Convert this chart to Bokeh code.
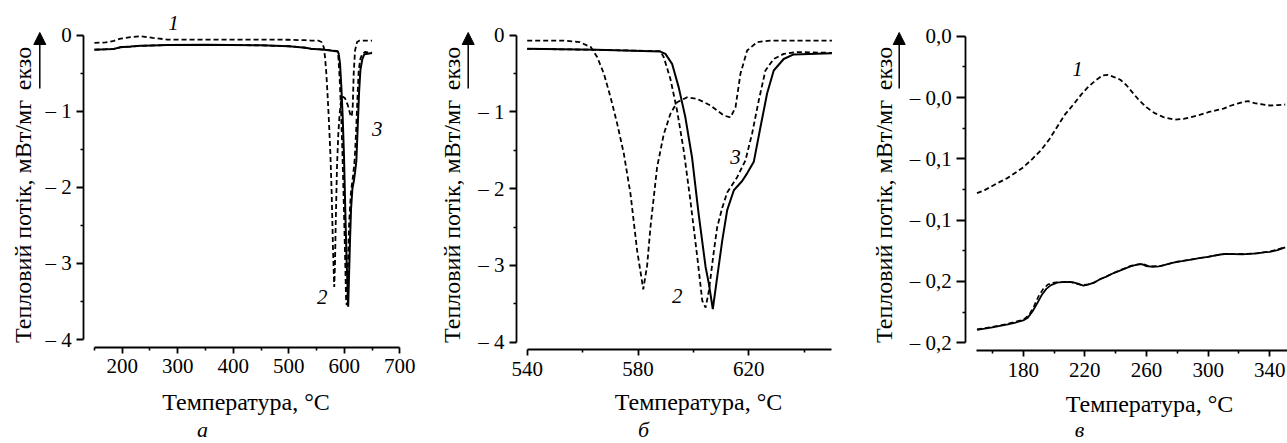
import math
from bokeh.plotting import figure
from bokeh.models import Range1d, FixedTicker, Label, Arrow, NormalHead
from bokeh.layouts import row
from bokeh.embed import file_html
from bokeh.resources import INLINE

# ---------------- data ----------------
# Panels а and б: wide range (150-530 °C, coarse) + melting region (540-650 °C, detailed)
t_low = [150, 170, 185, 197, 215, 233, 255, 281, 350, 450, 500, 530]
c1_low = [-0.10, -0.095, -0.075, -0.045, -0.025, -0.013, -0.035, -0.057, -0.057, -0.057, -0.060, -0.066]
c2_low = [-0.19, -0.185, -0.18, -0.158, -0.15, -0.14, -0.135, -0.13, -0.127, -0.133, -0.145, -0.165]
c3_low = [-0.19, -0.185, -0.18, -0.158, -0.15, -0.14, -0.135, -0.13, -0.127, -0.133, -0.145, -0.165]

t1_hi = [540, 553, 559, 563, 565.3, 567.7, 570.1, 572.5, 574.9, 577.3, 579.7, 581.9, 583.3,
         584.5, 586.9, 589.3, 591.7, 594.1, 597.7, 601.4, 606.2, 611, 613.4, 615.2, 617,
         619.4, 623, 627.8, 650]
c1_hi = [-0.07, -0.07, -0.09, -0.156, -0.287, -0.504, -0.81, -1.155, -1.546, -2.07, -2.81, -3.31, -3.0,
         -2.5, -1.72, -1.29, -1.025, -0.873, -0.81, -0.83, -0.916, -1.047, -1.07, -0.94, -0.5,
         -0.2, -0.09, -0.07, -0.07]

t2_hi = [540, 565, 588.1, 589.3, 591.7, 594.1, 596.5, 598.9, 601.4, 603.2, 604.4, 605.6, 607.4,
         608.6, 610.4, 612.2, 615.8, 618.8, 621.2, 623.6, 626, 629, 632.6, 637.4, 650]
c2_hi = [-0.178, -0.19, -0.208, -0.287, -0.57, -0.98, -1.5, -2.15, -2.89, -3.46, -3.55, -3.33, -2.81,
         -2.50, -2.25, -2.05, -1.85, -1.63, -1.28, -0.85, -0.46, -0.31, -0.243, -0.22, -0.23]

t3_hi = [540, 565, 588.1, 589.9, 592.3, 594.7, 597.1, 599.5, 601.9, 604.4, 605.6, 607.0, 608.6,
         610.4, 612.2, 614.6, 617.6, 619.4, 621.8, 624.2, 626.6, 629, 632.6, 636.2, 650]
c3_hi = [-0.178, -0.19, -0.213, -0.243, -0.373, -0.68, -1.07, -1.59, -2.33, -3.02, -3.24, -3.57, -3.15,
         -2.68, -2.28, -2.02, -1.90, -1.80, -1.65, -1.2, -0.76, -0.46, -0.31, -0.25, -0.234]

# Panel в: low-temperature region
t_c1 = [150, 155, 163, 170, 180, 186, 191.5, 197, 202, 207, 213, 218, 222, 227, 231.5, 235, 239,
        243, 247, 251, 255, 260, 265, 271, 278, 284, 289, 295, 300, 305, 310, 315, 319, 323, 326,
        330, 335, 340, 345, 350]
c1_c = [-0.128, -0.1255, -0.120, -0.1155, -0.107, -0.100, -0.093, -0.084, -0.074, -0.064, -0.055,
        -0.047, -0.0416, -0.036, -0.032, -0.0315, -0.0334, -0.0355, -0.040, -0.046, -0.052, -0.058,
        -0.0625, -0.066, -0.068, -0.0675, -0.066, -0.064, -0.062, -0.0605, -0.059, -0.0565, -0.055,
        -0.0535, -0.053, -0.0545, -0.0555, -0.0565, -0.0562, -0.0557]

t_c2 = [150, 160, 170, 180, 184, 187, 190, 193, 196, 200, 210, 218, 224, 232, 240, 250, 257, 262,
        270, 280, 290, 300, 310, 320, 330, 340, 350]
c2_c = [-0.2390, -0.2370, -0.2345, -0.2312, -0.2270, -0.2200, -0.2120, -0.2060, -0.2025, -0.2008,
        -0.2003, -0.2030, -0.2020, -0.1970, -0.1922, -0.1872, -0.1855, -0.1876, -0.1872, -0.1838,
        -0.1818, -0.1798, -0.1776, -0.1776, -0.1772, -0.1756, -0.1720]

t_c3 = [150, 155, 160, 165, 170, 175, 180, 183, 186, 189, 192, 195, 198, 202, 207, 212, 216, 219,
        222, 226, 230, 234, 238, 242, 246, 250, 254, 257, 260, 264, 268, 272, 276, 280, 285, 290,
        295, 300, 304, 308, 312, 317, 322, 327, 332, 336, 340, 345, 350]
c3_c = [-0.2394, -0.2385, -0.2375, -0.2362, -0.2350, -0.2335, -0.2318, -0.2295, -0.2245, -0.2180,
        -0.2110, -0.2060, -0.2030, -0.2010, -0.2003, -0.2005, -0.2020, -0.2033, -0.2025, -0.2010,
        -0.1980, -0.1960, -0.1935, -0.1915, -0.1895, -0.1875, -0.1862, -0.1858, -0.1875, -0.1880,
        -0.1877, -0.1865, -0.1850, -0.1840, -0.1830, -0.1820, -0.1808, -0.1800, -0.1790, -0.1780,
        -0.1775, -0.1777, -0.1778, -0.1775, -0.1770, -0.1762, -0.1758, -0.1745, -0.1722]

# ticks and tick labels
ab_yticks = [0, -1, -2, -3, -4]
ab_yminor = [-0.5, -1.5, -2.5, -3.5]
ab_ylabels = ["0", "– 1", "– 2", "– 3", "– 4"]
a_xticks = [200, 300, 400, 500, 600, 700]
a_xminor = [150, 250, 350, 450, 550, 650]
b_xticks = [540, 580, 620]
b_xminor = [560, 600, 640]
c_xticks = [180, 220, 260, 300, 340]
c_xminor = [160, 200, 240, 280, 320]
c_yticks = [0.0, -0.05, -0.10, -0.15, -0.20, -0.25]
c_yminor = [-0.025, -0.075, -0.125, -0.175, -0.225]
c_ylabels = ["0,0", "– 0,0", "– 0,1", "– 0,1", "– 0,2", "– 0,2"]

Y_TITLE = "Тепловий потік, мВт/мг"
X_TITLE = "Температура, °C"
EXO = "екзо"

# ---------------- styling / layout ----------------
FONT = "Liberation Serif"
INK = "black"
DASH = "5 3"
PAGE_TOP, PAGE_BOTTOM = 0, 443
TICK_FS = "21px"
TITLE_FS = "24px"


class Panel:
    """One sub-chart; the frame fills its whole canvas, axes are pinned with fixed_location."""

    def __init__(self, canvas_left, canvas_w, xcal, ycal, axis_px, axis_py):
        (xv1, xp1), (xv2, xp2) = xcal
        sx = (xp2 - xp1) / (xv2 - xv1)
        (yv1, yp1), (yv2, yp2) = ycal
        sy = (yp2 - yp1) / (yv2 - yv1)
        self.sx, self.sy = sx, sy
        self.xv1, self.xp1, self.yv1, self.yp1 = xv1, xp1, yv1, yp1
        x0, x1 = self.dx(canvas_left), self.dx(canvas_left + canvas_w)
        ytop, ybot = self.dy(PAGE_TOP), self.dy(PAGE_BOTTOM)
        p = figure(x_range=Range1d(x0, x1), y_range=Range1d(ybot, ytop),
                   frame_width=canvas_w, frame_height=PAGE_BOTTOM - PAGE_TOP,
                   min_border=0, min_border_left=0, min_border_right=0,
                   min_border_top=0, min_border_bottom=0, title=None,
                   output_backend="svg", toolbar_location=None)
        p.outline_line_color = None
        p.grid.visible = False
        p.background_fill_color = "white"
        p.border_fill_color = "white"
        self.p = p
        self.axis_x = self.dx(axis_px)
        self.axis_y = self.dy(axis_py)

    def dx(self, px):
        return self.xv1 + (px - self.xp1) / self.sx

    def dy(self, py):
        return self.yv1 + (py - self.yp1) / self.sy

    def axes(self, xt, xm, xb, yt, ym, yb, ylab, ytick_len=7):
        p = self.p
        for ax in (p.xaxis[0], p.yaxis[0]):
            ax.axis_line_width = 1.8
            ax.axis_line_color = INK
            ax.major_tick_line_width = 1.8
            ax.minor_tick_line_width = 1.6
            ax.major_tick_line_color = INK
            ax.minor_tick_line_color = INK
            ax.major_tick_in = 0
            ax.minor_tick_in = 0
            ax.major_label_text_font = FONT
            ax.major_label_text_font_size = TICK_FS
            ax.major_label_text_color = INK
        xa, ya = p.xaxis[0], p.yaxis[0]
        xa.fixed_location = self.axis_y
        xa.ticker = FixedTicker(ticks=xt, minor_ticks=xm)
        xa.bounds = xb
        xa.major_tick_out = 6
        xa.minor_tick_out = 3
        xa.major_label_standoff = 6
        ya.fixed_location = self.axis_x
        ya.ticker = FixedTicker(ticks=yt, minor_ticks=ym)
        ya.bounds = yb
        ya.major_tick_out = ytick_len
        ya.minor_tick_out = 3
        ya.major_label_standoff = 5
        ya.major_label_overrides = {v: s for v, s in zip(yt, ylab)}

    def text(self, px, py, s, size="21px", italic=False, angle=0.0, baseline="middle", align="center"):
        self.p.add_layout(Label(x=self.dx(px), y=self.dy(py), text=s, text_font=FONT,
                                text_font_size=size,
                                text_font_style="italic" if italic else "normal",
                                text_color=INK, angle=angle, text_align=align,
                                text_baseline=baseline))

    def titles(self, ytx, xtx, xty, arrow_x, letter, letter_x):
        self.text(ytx, 221, Y_TITLE, size=TITLE_FS, angle=math.pi / 2)
        self.text(ytx, 68, EXO, size=TITLE_FS, angle=math.pi / 2)
        self.p.add_layout(Arrow(end=NormalHead(size=12, fill_color=INK, line_color=INK, line_width=1),
                                x_start=self.dx(arrow_x), y_start=self.dy(88),
                                x_end=self.dx(arrow_x), y_end=self.dy(32),
                                line_width=1.5, line_color=INK))
        self.text(xtx, xty, X_TITLE, size=TITLE_FS)
        # sub-figure letter, kept fully inside the canvas
        self.text(letter_x, 441, letter, size="22px", italic=True, baseline="bottom")


# ---------------- panel а ----------------
A = Panel(0, 440, ((200, 121.7), (700, 399.3)), ((0, 34.7), (-4, 339.0)), 83.3, 346.7)
pa = A.p
pa.line(t_low + t1_hi, c1_low + c1_hi, line_color=INK, line_width=1.8, line_dash=DASH)
pa.line(t_low + t2_hi, c2_low + c2_hi, line_color=INK, line_width=1.8, line_dash=DASH)
pa.line(t_low + t3_hi, c3_low + c3_hi, line_color=INK, line_width=2.0)
A.axes(a_xticks, a_xminor, (150, 700), ab_yticks, ab_yminor, (-4, 0), ab_ylabels)
A.titles(22, 245.5, 401, 39.3, "а", 202)
A.text(173, 22, "1", italic=True)
A.text(321.7, 296.7, "2", italic=True)
A.text(376.7, 128.3, "3", italic=True)

# ---------------- panel б ----------------
B = Panel(440, 430, ((540, 526.7), (620, 748.3)), ((0, 34.7), (-4, 341.7)), 516.0, 349.0)
pb = B.p
pb.line(t1_hi, c1_hi, line_color=INK, line_width=1.8, line_dash=DASH)
pb.line(t2_hi, c2_hi, line_color=INK, line_width=1.8, line_dash=DASH)
pb.line(t3_hi, c3_hi, line_color=INK, line_width=2.0)
B.axes(b_xticks, b_xminor, (540, 650), ab_yticks, ab_yminor, (-4, 0), ab_ylabels)
B.titles(451, 698, 401, 467.7, "б", 643)
B.text(676.7, 295, "2", italic=True)
B.text(735, 156.7, "3", italic=True)

# ---------------- panel в ----------------
C = Panel(870, 417, ((180, 1022.7), (340, 1269.3)), ((0.0, 35.7), (-0.25, 342.3)), 965.3, 350.0)
pc = C.p
pc.line(t_c1, c1_c, line_color=INK, line_width=1.8, line_dash=DASH)
pc.line(t_c2, c2_c, line_color=INK, line_width=1.6, line_dash=DASH)
pc.line(t_c3, c3_c, line_color=INK, line_width=1.8)
C.axes(c_xticks, c_xminor, (150, 360), c_yticks, c_yminor, (-0.25, 0.0), c_ylabels, ytick_len=9)
C.titles(883, 1149, 403, 898.7, "в", 1079)
C.text(1077, 68.3, "1", italic=True)

layout = row(pa, pb, pc)
open("out.html", "w").write(file_html(layout, INLINE))
